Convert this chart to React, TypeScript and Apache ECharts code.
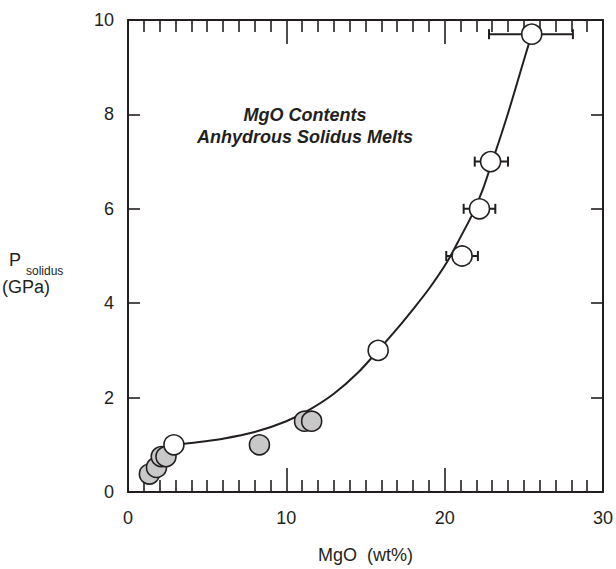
import React, { useEffect, useRef } from "react";
import * as echarts from "echarts";

// Open circles (anhydrous solidus melts)
const openMgO = [2.9, 15.8, 21.1, 22.2, 22.9, 25.5];
const openP = [1.0, 3.0, 5.0, 6.0, 7.0, 9.7];
// Horizontal error bars (MgO low / high) for the open circles at these P
const errP = [5.0, 6.0, 7.0, 9.7];
const errLow = [20.1, 21.2, 21.9, 22.8];
const errHigh = [22.1, 23.2, 24.0, 28.1];
// Grey circles
const grayMgO = [1.35, 1.8, 2.1, 2.4, 8.3, 11.15, 11.6];
const grayP = [0.38, 0.52, 0.75, 0.75, 1.0, 1.5, 1.5];
// Fitted curve
const curveMgO = [2.9, 4.0, 6.0, 8.0, 10.0, 11.5, 13.0, 14.5, 15.8, 17.0, 18.0, 19.0, 20.2, 21.0, 21.7, 22.4, 23.0, 23.6, 24.2, 24.8, 25.5];
const curveP = [1.0, 1.04, 1.13, 1.27, 1.5, 1.75, 2.08, 2.52, 3.0, 3.46, 3.87, 4.3, 4.9, 5.4, 5.85, 6.4, 7.0, 7.6, 8.24, 8.92, 9.7];

const xMin = 0, xMax = 30, xStep = 10;
const yMin = 0, yMax = 10, yStep = 2;

const FONT = "'Liberation Sans', Arial, Helvetica, sans-serif";
const INK = "#231f20";

export default function App() {
  const ref = useRef<HTMLDivElement>(null);
  useEffect(() => {
    if (!ref.current) return;
    const chart = echarts.init(ref.current, undefined, { renderer: "svg" });
    const xBase = {
      type: "value",
      min: xMin,
      max: xMax,
      interval: xStep,
      splitLine: { show: false },
      axisLine: { show: true, onZero: false, lineStyle: { color: INK, width: 2 } },
      axisTick: { show: true, inside: true, length: 24, lineStyle: { color: INK, width: 1.6 } },
      minorTick: { show: true, splitNumber: 10, length: 12, lineStyle: { color: INK, width: 1.6 } },
      minorSplitLine: { show: false },
    };
    const yBase = {
      type: "value",
      min: yMin,
      max: yMax,
      interval: yStep,
      splitLine: { show: false },
      axisLine: { show: true, onZero: false, lineStyle: { color: INK, width: 2 } },
      axisTick: { show: true, inside: true, length: 12, lineStyle: { color: INK, width: 1.6 } },
    };
    chart.setOption({
      animation: false,
      backgroundColor: "#ffffff",
      grid: { left: 128, right: 13, top: 20, bottom: 74, containLabel: false },
      xAxis: [
        {
          ...xBase,
          position: "bottom",
          axisLabel: { show: true, margin: 17, fontSize: 18, color: INK, fontFamily: FONT },
          name: "MgO  (wt%)",
          nameLocation: "middle",
          nameGap: 54,
          nameTextStyle: { fontSize: 18, color: INK, fontFamily: FONT },
        },
        { ...xBase, position: "top", axisLabel: { show: false } },
      ],
      yAxis: [
        {
          ...yBase,
          position: "left",
          axisLabel: { show: true, margin: 14, fontSize: 18, color: INK, fontFamily: FONT },
        },
        { ...yBase, position: "right", axisLabel: { show: false } },
      ],
      graphic: [
        { type: "text", left: 9, top: 251, style: { text: "P", fontSize: 18, fill: INK, fontFamily: FONT } },
        { type: "text", left: 26, top: 265, style: { text: "solidus", fontSize: 12, fill: INK, fontFamily: FONT } },
        { type: "text", left: 2, top: 278, style: { text: "(GPa)", fontSize: 18, fill: INK, fontFamily: FONT } },
        {
          type: "text", x: 305, y: 115,
          style: { text: "MgO Contents", fontSize: 18, fontWeight: "bold", fontStyle: "italic", fill: INK, fontFamily: FONT, align: "center", verticalAlign: "middle" },
        },
        {
          type: "text", x: 305, y: 137,
          style: { text: "Anhydrous Solidus Melts", fontSize: 18, fontWeight: "bold", fontStyle: "italic", fill: INK, fontFamily: FONT, align: "center", verticalAlign: "middle" },
        },
      ],
      series: [
        {
          type: "line",
          xAxisIndex: 0,
          yAxisIndex: 0,
          data: curveMgO.map((x, i) => [x, curveP[i]]),
          showSymbol: false,
          smooth: 0.3,
          lineStyle: { color: INK, width: 2 },
          z: 2,
          silent: true,
        },
        {
          type: "custom",
          xAxisIndex: 0,
          yAxisIndex: 0,
          data: errP.map((p, i) => [errLow[i], errHigh[i], p]),
          encode: { x: [0, 1], y: 2 },
          renderItem: (params: any, api: any) => {
            const p = api.value(2);
            const a = api.coord([api.value(0), p]);
            const b = api.coord([api.value(1), p]);
            const st = { stroke: INK, lineWidth: 2 };
            const h = 5;
            return {
              type: "group",
              children: [
                { type: "line", shape: { x1: a[0], y1: a[1], x2: b[0], y2: b[1] }, style: st },
                { type: "line", shape: { x1: a[0], y1: a[1] - h, x2: a[0], y2: a[1] + h }, style: st },
                { type: "line", shape: { x1: b[0], y1: b[1] - h, x2: b[0], y2: b[1] + h }, style: st },
              ],
            };
          },
          z: 3,
          silent: true,
        },
        {
          type: "scatter",
          xAxisIndex: 0,
          yAxisIndex: 0,
          data: grayMgO.map((x, i) => [x, grayP[i]]),
          symbol: "circle",
          symbolSize: 20,
          itemStyle: { color: "#c8c8c8", borderColor: INK, borderWidth: 1.6, opacity: 1 },
          z: 4,
        },
        {
          type: "scatter",
          xAxisIndex: 0,
          yAxisIndex: 0,
          data: openMgO.map((x, i) => [x, openP[i]]),
          symbol: "circle",
          symbolSize: 20,
          itemStyle: { color: "#ffffff", borderColor: INK, borderWidth: 1.6, opacity: 1 },
          z: 5,
        },
      ],
    });
    return () => chart.dispose();
  }, []);
  return <div ref={ref} style={{ width: 616, height: 569, position: "absolute", left: 0, top: 0 }} />;
}
